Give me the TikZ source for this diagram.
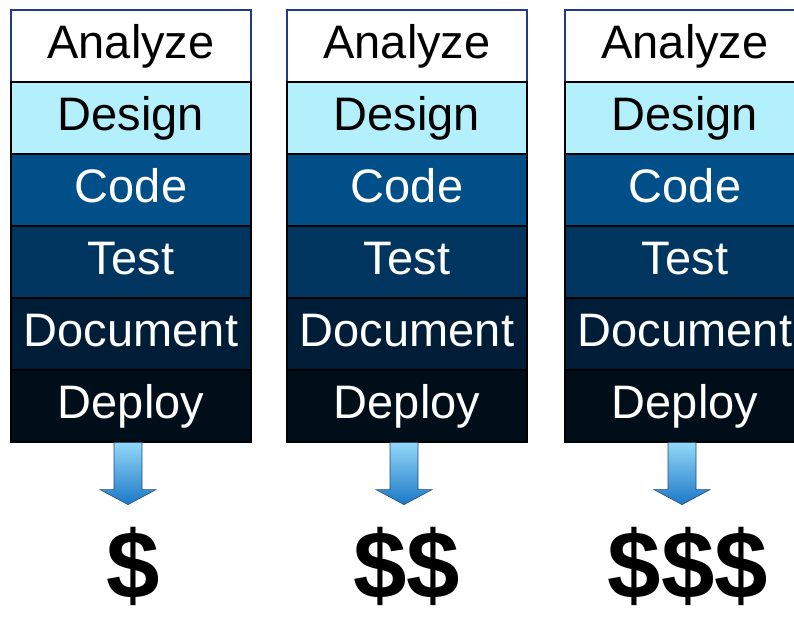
\documentclass[tikz,border=0pt]{standalone}
\usepackage{fontspec}
\setmainfont{Liberation Sans}
\usetikzlibrary{positioning}

\definecolor{anaborder}{HTML}{1F3A8A}
\definecolor{designfill}{HTML}{B4F0FC}
\definecolor{codefill}{HTML}{004F88}
\definecolor{testfill}{HTML}{00355F}
\definecolor{docfill}{HTML}{001D38}
\definecolor{deployfill}{HTML}{000E1A}
\definecolor{arrowtop}{HTML}{92D8F8}
\definecolor{arrowbot}{HTML}{1C78C6}
\definecolor{arrowedge}{HTML}{1F4E79}

\begin{document}
\begin{tikzpicture}[x=1pt,y=1pt,
  phase/.style={draw=black, line width=1.2pt, minimum width=240pt, minimum height=72pt,
    inner sep=0pt, text height=34pt, text depth=10pt, text=white, font=\fontsize{47}{50}\selectfont},
  stack/.style={phase, below=-1.2pt of #1},
  cost/.style={anchor=base, inner sep=0pt, font=\fontsize{96}{100}\selectfont\bfseries},
  downarrow/.style={top color=arrowtop, bottom color=arrowbot, draw=arrowedge, line width=0.6pt}]
  \useasboundingbox (0,0) rectangle (794,-616);

  \node[phase, draw=anaborder, fill=white, text=black] (ana1) at (131,-46) {Analyze}; %First column
  \node[stack=ana1, fill=designfill, text=black] (des1) {Design};
  \node[stack=des1, fill=codefill] (cod1) {Code};
  \node[stack=cod1, fill=testfill] (tes1) {Test};
  \node[stack=tes1, fill=docfill] (doc1) {Document};
  \node[stack=doc1, fill=deployfill] (dep1) {Deploy};

  \node[phase, draw=anaborder, fill=white, text=black] (ana2) at (407,-46) {Analyze}; %Second column
  \node[stack=ana2, fill=designfill, text=black] (des2) {Design};
  \node[stack=des2, fill=codefill] (cod2) {Code};
  \node[stack=cod2, fill=testfill] (tes2) {Test};
  \node[stack=tes2, fill=docfill] (doc2) {Document};
  \node[stack=doc2, fill=deployfill] (dep2) {Deploy};

  \node[phase, draw=anaborder, fill=white, text=black] (ana3) at (685,-46) {Analyze}; %Third column
  \node[stack=ana3, fill=designfill, text=black] (des3) {Design};
  \node[stack=des3, fill=codefill] (cod3) {Code};
  \node[stack=cod3, fill=testfill] (tes3) {Test};
  \node[stack=tes3, fill=docfill] (doc3) {Document};
  \node[stack=doc3, fill=deployfill] (dep3) {Deploy};

  \shade[downarrow] ([xshift=-17pt]dep1.south) -- ++(0,-47) -- ++(-14,0) -- ++(28,-15)
    -- ++(28,15) -- ++(-14,0) -- ++(0,47) -- cycle; %Arrow under first column
  \shade[downarrow] ([xshift=-17pt]dep2.south) -- ++(0,-47) -- ++(-14,0) -- ++(28,-15)
    -- ++(28,15) -- ++(-14,0) -- ++(0,47) -- cycle; %Arrow under second column
  \shade[downarrow] ([xshift=-17pt]dep3.south) -- ++(0,-47) -- ++(-14,0) -- ++(28,-15)
    -- ++(28,15) -- ++(-14,0) -- ++(0,47) -- cycle; %Arrow under third column

  \node[cost] (cost1) at (133,-598) {\$};       %Cost of first column
  \node[cost] (cost2) at (407,-598) {\$\$};     %Cost of second column
  \node[cost] (cost3) at (688,-598) {\$\$\$};   %Cost of third column
\end{tikzpicture}
\end{document}
